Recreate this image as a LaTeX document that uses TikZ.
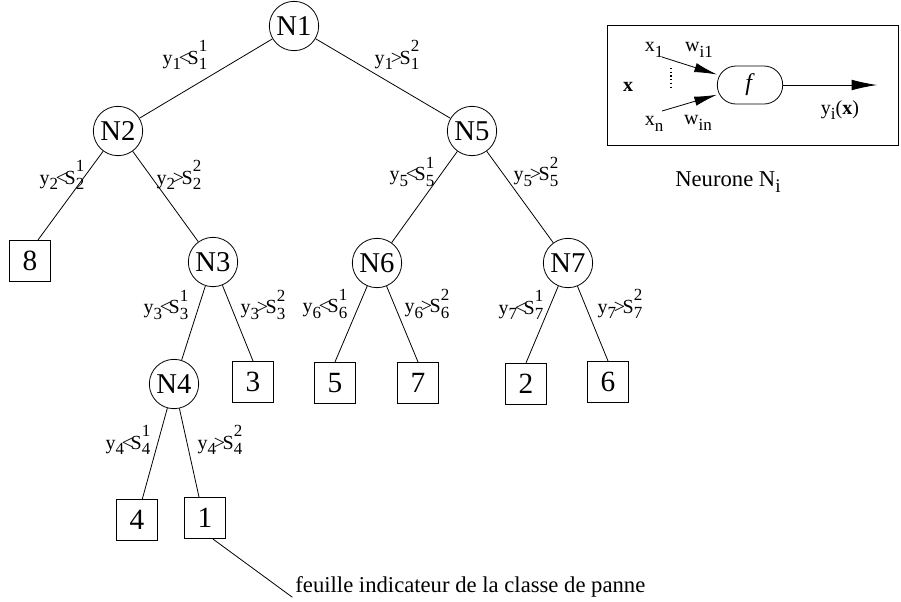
\documentclass[tikz,border=0pt]{standalone}
\usepackage{fontspec}
\usepackage{graphicx}
\setmainfont{Liberation Serif}
\usetikzlibrary{arrows.meta}
\newcommand{\lo}[1]{\raisebox{-0.28em}{\scalebox{0.85}{#1}}}
\newcommand{\hi}[1]{\raisebox{0.62em}{\scalebox{0.85}{#1}}}
\newcommand{\cond}[3]{y\lo{#1}\kern-0.12em#2\kern-0.12em S\rlap{\hi{#3}}\lo{#1}}

\begin{document}
\begin{tikzpicture}[x=0.75pt,y=-0.75pt,line width=0.6pt,
    neur/.style={circle,draw,minimum size=37pt,inner sep=0pt,font=\fontsize{21.5}{24}\selectfont},
    leaf/.style={draw,minimum size=31pt,inner sep=0pt,font=\fontsize{22}{24}\selectfont},
    cnd/.style={inner sep=0pt,font=\fontsize{15}{18}\selectfont},
    txt/.style={inner sep=0pt,font=\fontsize{15}{18}\selectfont}]
    \useasboundingbox (0,0) rectangle (901,601);
    % neurones de l'arbre
    \node[neur] (n1) at (294,26) {N1};
    \node[neur] (n2) at (118,131) {N2};
    \node[neur] (n5) at (472,131) {N5};
    \node[neur] (n3) at (213,262) {N3};
    \node[neur] (n6) at (377,263) {N6};
    \node[neur] (n7) at (568,263) {N7};
    \node[neur] (n4) at (174,384) {N4};
    % feuilles
    \node[leaf] (b8) at (30,261) {8};
    \node[leaf] (b3) at (253,382) {3};
    \node[leaf] (b5) at (335,383) {5};
    \node[leaf] (b7) at (418,383) {7};
    \node[leaf] (b2) at (526,384) {2};
    \node[leaf] (b6) at (608,382) {6};
    \node[leaf] (b4) at (137,520) {4};
    \node[leaf] (b1) at (205,518) {1};
    % branches
    \foreach \a/\b in {n1/n2,n1/n5,n2/n3,n3/n4,n5/n6,n5/n7}
        \draw (\a) -- (\b);
    \draw (n2) -- ([xshift=6pt]b8.north);
    \draw (n3) -- (b3.north);
    \draw (n6) -- (b5.north);
    \draw (n6) -- (b7.north);
    \draw (n7) -- (b2.north);
    \draw (n7) -- (b6.north);
    \draw (n4) -- ([xshift=4pt]b4.north);
    \draw (n4) -- ([xshift=-4.5pt]b1.north);
    % seuils
    \node[cnd] (c1a) at (185,55) {\cond{1}{<}{1}};
    \node[cnd] (c1b) at (397,55) {\cond{1}{>}{2}};
    \node[cnd] (c2a) at (62,175) {\cond{2}{<}{1}};
    \node[cnd] (c2b) at (179,175) {\cond{2}{>}{2}};
    \node[cnd] (c5a) at (412,172) {\cond{5}{<}{1}};
    \node[cnd] (c5b) at (536,172) {\cond{5}{>}{2}};
    \node[cnd] (c3a) at (166,305) {\cond{3}{<}{1}};
    \node[cnd] (c3b) at (263,305) {\cond{3}{>}{2}};
    \node[cnd] (c6a) at (325,304) {\cond{6}{<}{1}};
    \node[cnd] (c6b) at (427,304) {\cond{6}{>}{2}};
    \node[cnd] (c7a) at (521,305) {\cond{7}{<}{1}};
    \node[cnd] (c7b) at (620,304) {\cond{7}{>}{2}};
    \node[cnd] (c4a) at (128,440) {\cond{4}{<}{1}};
    \node[cnd] (c4b) at (220,440) {\cond{4}{>}{2}};
    % legende feuille
    \node[txt,anchor=base west,font=\fontsize{17}{20}\selectfont] (feuille) at (295,592) {feuille indicateur de la classe de panne};
    \draw ([xshift=6pt]b1.south) -- ([xshift=-2pt]feuille.south west);
    % neurone N_i
    \draw (607,25) rectangle (898,145);
    \node[draw,rounded corners=14pt,minimum width=49pt,minimum height=28.5pt,inner sep=0pt,
        font=\fontsize{18}{20}\selectfont] (f) at (750,85) {\textit{f}};
    \node[txt] (x) at (628,87) {\textbf{x}};
    \node[txt] (x1) at (654,50) {x\lo{1}};
    \node[txt] (xn) at (654,124) {x\lo{n}};
    \node[txt] (wi1) at (699,50) {w\lo{i1}};
    \node[txt] (win) at (698,123) {w\lo{in}};
    \node[txt] (yi) at (840,110) {y\lo{i}(\textbf{x})};
    \coordinate (in1) at (662,57);
    \coordinate (inn) at (662,111);
    \coordinate (out) at (877,85);
    \draw[-{Latex[length=17pt,width=7pt]}] (in1) -- (f);
    \draw[-{Latex[length=17pt,width=7pt]}] (inn) -- (f);
    \draw[-{Latex[length=19pt,width=8pt]}] (f) -- (out);
    \draw[dotted,line width=0.8pt] (671,68) -- (671,90);
    \node[txt,font=\fontsize{17}{20}\selectfont] (neur) at (728,182) {Neurone N\lo{i}};
\end{tikzpicture}
\end{document}
